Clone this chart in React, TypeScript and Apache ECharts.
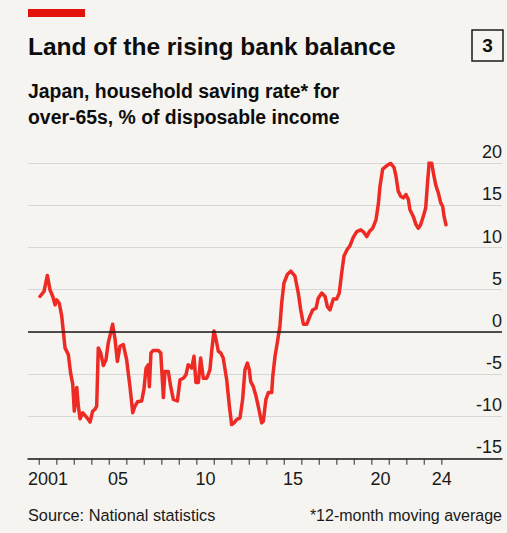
import React, { useEffect, useRef } from "react";
import * as echarts from "echarts";

// Decimal years (x) and 12-month moving-average saving rate (%)
const years = [
  2001.04, 2001.27, 2001.46, 2001.61, 2001.77, 2001.9, 2001.99, 2002.14, 2002.28, 2002.37,
  2002.47, 2002.66, 2002.79, 2002.91, 2003.0, 2003.14, 2003.23, 2003.33, 2003.48, 2003.61,
  2003.8, 2003.9, 2004.05, 2004.18, 2004.28, 2004.37, 2004.51, 2004.66, 2004.81, 2004.94,
  2005.19, 2005.33, 2005.46, 2005.61, 2005.8, 2005.99, 2006.18, 2006.34, 2006.47, 2006.61,
  2006.85, 2006.98, 2007.1, 2007.23, 2007.29, 2007.38, 2007.51, 2007.8, 2007.94, 2008.09,
  2008.18, 2008.37, 2008.51, 2008.66, 2008.89, 2009.04, 2009.23, 2009.38, 2009.51, 2009.71,
  2009.84, 2009.95, 2010.09, 2010.22, 2010.37, 2010.57, 2010.75, 2010.85, 2010.98, 2011.1,
  2011.23, 2011.37, 2011.51, 2011.71, 2011.86, 2011.99, 2012.13, 2012.28, 2012.47, 2012.62,
  2012.75, 2012.89, 2013.0, 2013.08, 2013.23, 2013.38, 2013.51, 2013.71, 2013.8, 2013.95,
  2014.09, 2014.28, 2014.34, 2014.47, 2014.6, 2014.75, 2014.85, 2014.98, 2015.17, 2015.37,
  2015.61, 2015.8, 2015.94, 2016.09, 2016.28, 2016.47, 2016.62, 2016.81, 2016.94, 2017.14,
  2017.33, 2017.46, 2017.61, 2017.8, 2017.99, 2018.14, 2018.28, 2018.41, 2018.6, 2018.75,
  2018.94, 2019.14, 2019.37, 2019.55, 2019.71, 2019.86, 2020.05, 2020.24, 2020.37, 2020.47,
  2020.62, 2020.85, 2021.08, 2021.27, 2021.38, 2021.51, 2021.65, 2021.8, 2021.95, 2022.09,
  2022.18, 2022.37, 2022.53, 2022.66, 2022.79, 2022.94, 2023.08, 2023.17, 2023.29, 2023.42,
  2023.55, 2023.67, 2023.8, 2023.94, 2024.05, 2024.13, 2024.24,
];
const savingRate = [
  4.2, 4.8, 6.7, 5.0, 4.2, 3.2, 3.8, 3.4, 1.9, 0.1,
  -1.9, -2.7, -4.9, -6.2, -9.4, -6.6, -8.8, -10.3, -9.6, -9.9,
  -10.4, -10.7, -9.4, -9.2, -8.8, -1.9, -2.5, -4.0, -3.3, -1.3,
  0.9, -0.9, -3.5, -1.7, -1.5, -3.3, -6.5, -9.6, -8.8, -8.3,
  -8.2, -6.8, -4.3, -3.9, -6.5, -2.5, -2.2, -2.2, -2.5, -7.8,
  -4.7, -4.7, -6.5, -8.0, -8.2, -5.7, -5.5, -5.1, -3.9, -4.3,
  -2.9, -6.0, -6.0, -3.1, -5.5, -5.5, -4.5, -2.3, 0.1, -0.9,
  -2.3, -2.5, -3.1, -5.7, -8.8, -11.0, -10.8, -10.4, -10.2, -8.0,
  -4.5, -3.7, -4.5, -5.9, -6.5, -7.6, -8.8, -10.8, -10.6, -8.0,
  -7.2, -7.2, -5.3, -2.9, -1.3, 0.7, 3.4, 5.8, 6.8, 7.2,
  6.6, 4.6, 2.6, 0.9, 0.9, 1.9, 2.6, 2.8, 4.0, 4.6,
  4.2, 3.0, 2.6, 3.9, 3.9, 4.6, 7.0, 9.0, 9.8, 10.2,
  11.2, 11.9, 12.1, 11.8, 11.3, 11.9, 12.3, 13.3, 15.1, 17.3,
  19.3, 19.7, 20.0, 19.5, 18.5, 16.7, 16.1, 15.9, 16.3, 15.7,
  14.5, 13.7, 12.7, 12.3, 12.7, 13.7, 14.7, 17.3, 20.4, 20.0,
  18.5, 17.3, 16.5, 15.3, 14.9, 13.7, 12.7,
];

const tickYears = [
  2001, 2002, 2003, 2004, 2005, 2006, 2007, 2008, 2009, 2010, 2011, 2012,
  2013, 2014, 2015, 2016, 2017, 2018, 2019, 2020, 2021, 2022, 2023, 2024,
];
const labelYears = [2001, 2005, 2010, 2015, 2020, 2024];
const labelTexts = ["2001", "05", "10", "15", "20", "24"];
const Y_MIN = -15;
const Y_MAX = 20;
const Y_STEP = 5;

const titleText = "Land of the rising bank balance";
const subtitleLines = ["Japan, household saving rate* for", "over-65s, % of disposable income"];
const chartNumber = "3";
const sourceText = "Source: National statistics";
const noteText = "*12-month moving average";

const FONT = '"Liberation Sans", Arial, sans-serif';

// plot geometry (pixels)
const PLOT_LEFT = 28;
const PLOT_RIGHT = 502;
const PLOT_TOP = 163.3;
const PLOT_BOTTOM = 458.3;
const X_MIN = 2000.354;
const X_MAX = 2027.44;

export default function App() {
  const ref = useRef<HTMLDivElement>(null);

  useEffect(() => {
    if (!ref.current) return;
    const chart = echarts.init(ref.current, null, { renderer: "svg" });
    const data = years.map((y, i) => [y, savingRate[i]]);
    const tickData = tickYears.map((y) => [y, Y_MIN]);
    // labels sit in the middle of each year, except the last (partial) year
    const labelPos = labelYears.map((y, i) => (i === labelYears.length - 1 ? y : y + 0.5));

    const W = 507;
    const H = 533;

    chart.setOption({
      animation: false,
      backgroundColor: "#f5f4f0",
      grid: { left: PLOT_LEFT, right: W - PLOT_RIGHT, top: PLOT_TOP, bottom: H - PLOT_BOTTOM },
      xAxis: {
        type: "value",
        min: X_MIN,
        max: X_MAX,
        axisLine: { show: true, onZero: false, lineStyle: { color: "#1a1a1a", width: 1.5 } },
        axisTick: { show: false },
        axisLabel: {
          show: true,
          customValues: labelPos,
          formatter: (v: number) => {
            const idx = labelPos.findIndex((p) => Math.abs(p - v) < 0.01);
            return idx >= 0 ? labelTexts[idx] : "";
          },
          margin: 12,
          fontSize: 18,
          color: "#1a1a1a",
          fontFamily: FONT,
        },
        splitLine: { show: false },
      },
      yAxis: {
        type: "value",
        position: "right",
        min: Y_MIN,
        max: Y_MAX,
        interval: Y_STEP,
        axisLine: { show: false },
        axisTick: { show: false },
        axisLabel: {
          inside: true,
          margin: 0,
          verticalAlign: "bottom",
          padding: [0, 0, 2, 0],
          fontSize: 18,
          color: "#1a1a1a",
          fontFamily: FONT,
        },
        splitLine: { show: true, lineStyle: { color: "#d6d6d4", width: 1 } },
      },
      series: [
        {
          type: "line",
          data: [],
          z: 1,
          silent: true,
          markLine: {
            silent: true,
            symbol: "none",
            label: { show: false },
            lineStyle: { color: "#1a1a1a", width: 1.5, type: "solid" },
            data: [{ yAxis: 0 }],
          },
        },
        {
          // year tick marks below the axis line
          type: "scatter",
          data: tickData,
          symbol: "rect",
          symbolSize: [1.3, 6],
          symbolOffset: [0, 3.5],
          clip: false,
          silent: true,
          z: 2,
          itemStyle: { color: "#333333" },
        },
        {
          type: "line",
          data,
          z: 3,
          showSymbol: false,
          symbol: "none",
          silent: true,
          lineStyle: { color: "#ee2a24", width: 3.5, join: "round", cap: "round" },
        },
      ],
      graphic: [
        {
          type: "rect",
          shape: { x: 28, y: 9, width: 57, height: 8 },
          style: { fill: "#e3120b" },
        },
        {
          type: "text",
          x: 28,
          y: 46.5,
          style: {
            text: titleText,
            fontFamily: FONT,
            fontWeight: "bold",
            fontSize: 24.5,
            fill: "#0d0d0d",
            verticalAlign: "middle",
            align: "left",
          },
        },
        {
          type: "text",
          x: 28,
          y: 91,
          style: {
            text: subtitleLines[0],
            fontFamily: FONT,
            fontWeight: "bold",
            fontSize: 19.4,
            fill: "#0d0d0d",
            verticalAlign: "middle",
            align: "left",
          },
        },
        {
          type: "text",
          x: 28,
          y: 116.7,
          style: {
            text: subtitleLines[1],
            fontFamily: FONT,
            fontWeight: "bold",
            fontSize: 19.4,
            fill: "#0d0d0d",
            verticalAlign: "middle",
            align: "left",
          },
        },
        {
          type: "rect",
          shape: { x: 472, y: 30, width: 31, height: 31 },
          style: { fill: "none", stroke: "#1a1a1a", lineWidth: 1.5 },
        },
        {
          type: "text",
          x: 487.5,
          y: 45.5,
          style: {
            text: chartNumber,
            fontFamily: FONT,
            fontWeight: "bold",
            fontSize: 19,
            fill: "#0d0d0d",
            verticalAlign: "middle",
            align: "center",
          },
        },
        {
          type: "text",
          x: 28,
          y: 515,
          style: {
            text: sourceText,
            fontFamily: FONT,
            fontSize: 16.3,
            fill: "#1a1a1a",
            verticalAlign: "middle",
            align: "left",
          },
        },
        {
          type: "text",
          x: 502,
          y: 515,
          style: {
            text: noteText,
            fontFamily: FONT,
            fontSize: 16,
            fill: "#1a1a1a",
            verticalAlign: "middle",
            align: "right",
          },
        },
      ],
    });

    return () => chart.dispose();
  }, []);

  return (
    <div
      ref={ref}
      style={{ position: "absolute", left: 0, top: 0, width: 507, height: 533 }}
    />
  );
}
